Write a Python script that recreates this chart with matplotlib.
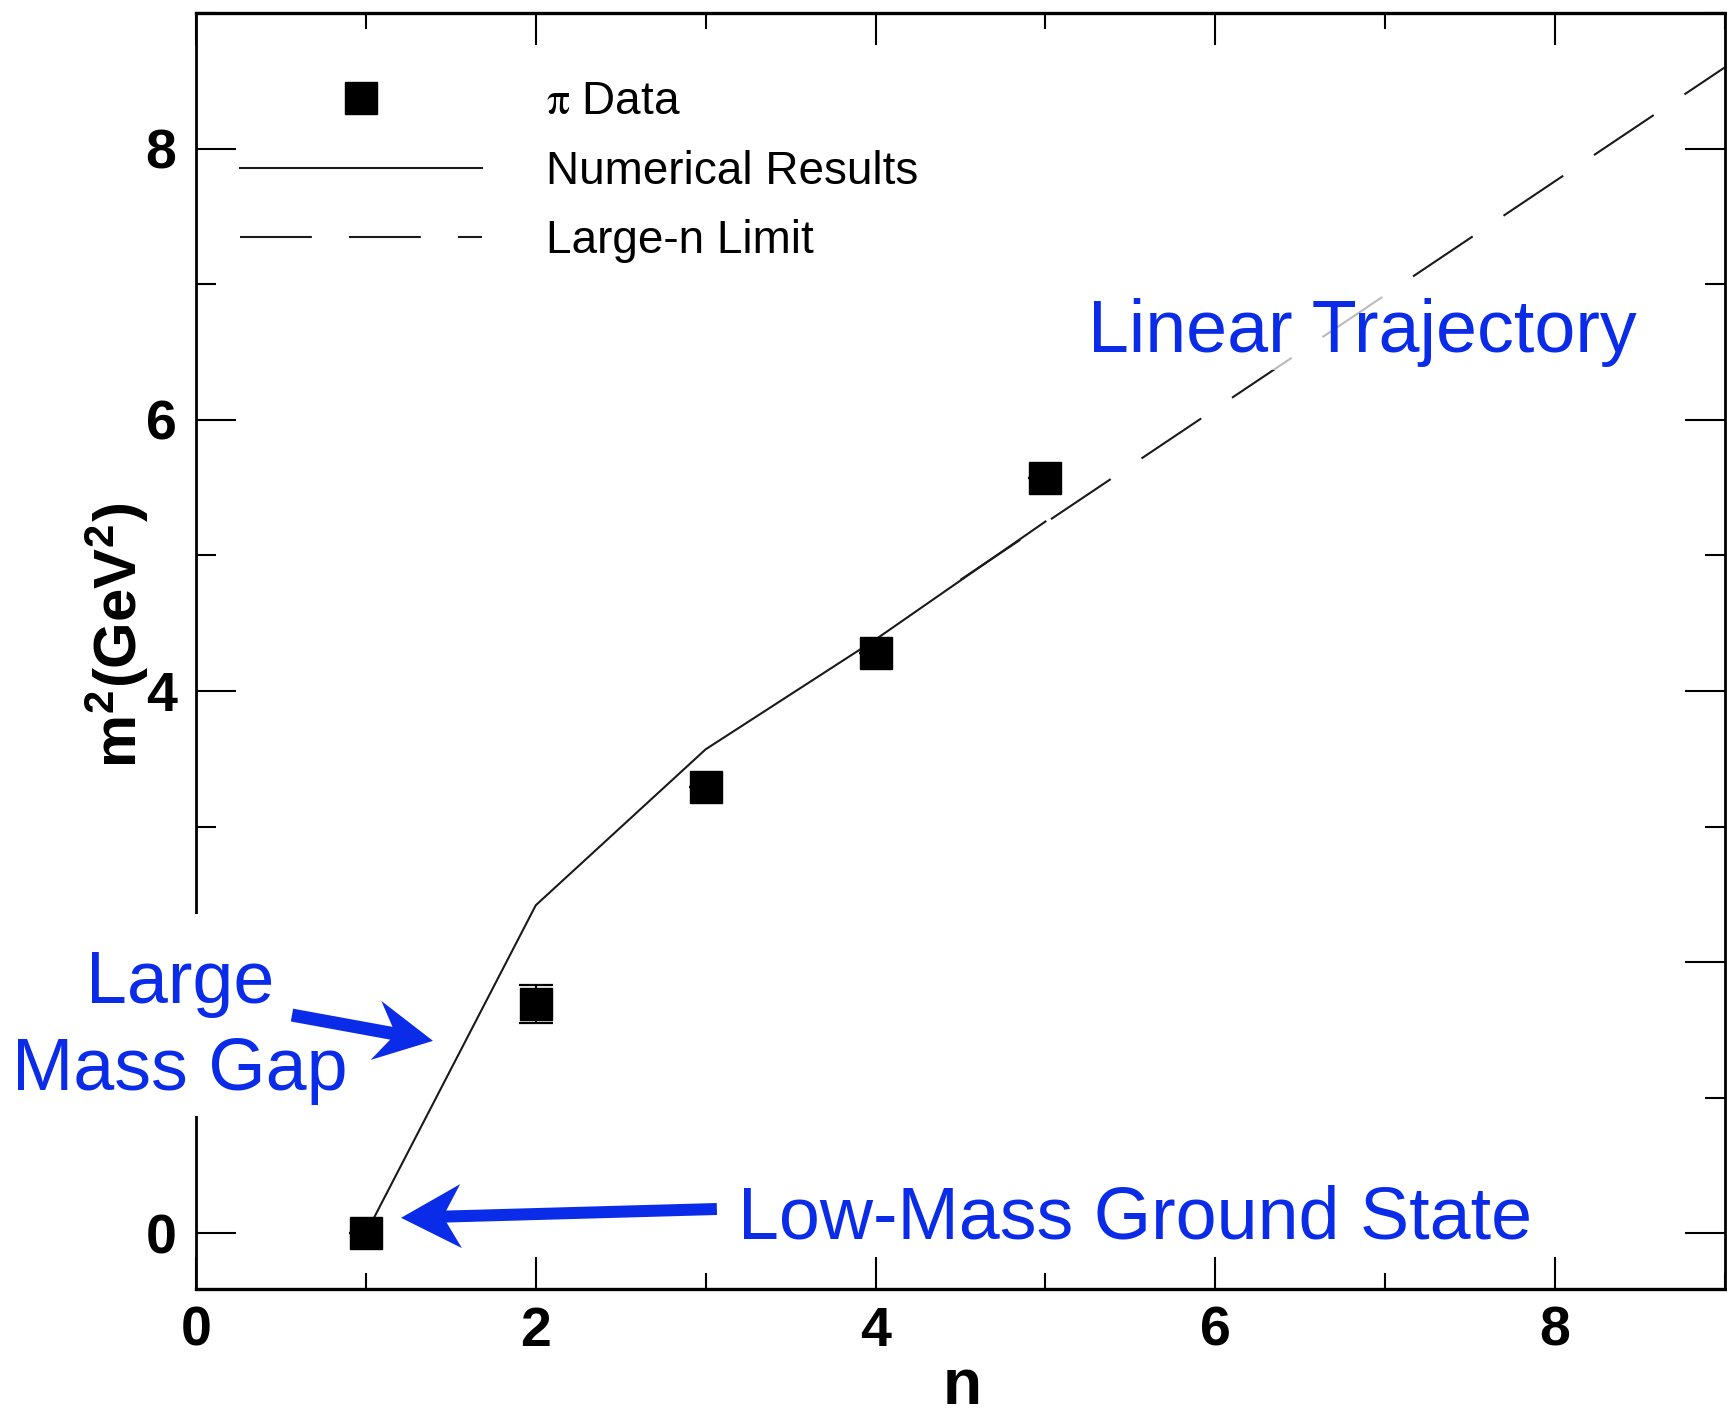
import numpy as np
import matplotlib
matplotlib.use("Agg")
import matplotlib.pyplot as plt
from matplotlib.patches import Polygon, Rectangle
from matplotlib.transforms import IdentityTransform
from matplotlib.ticker import MultipleLocator

plt.rcParams['font.family'] = ['Liberation Sans', 'DejaVu Sans']
plt.rcParams['mathtext.fontset'] = 'stix'

# ---------------- data ----------------
data_n = [1, 2, 3, 4, 5]
data_m2 = [0.0, 1.69, 3.29, 4.28, 5.57]
data_err = [0.0, 0.14, 0.0, 0.0, 0.0]

numerical_n = [1, 2, 3, 4, 5]
numerical_m2 = [0.0, 2.42, 3.57, 4.38, 5.25]

large_n_n = [4.5, 9.0]
large_n_m2 = [4.82, 8.60]

x_ticks = [0, 2, 4, 6, 8]
x_tick_labels = ['0', '2', '4', '6', '8']
y_ticks = [0, 2, 4, 6, 8]
y_tick_labels = ['0', '', '4', '6', '8']   # "2" is hidden behind the annotation

legend_labels = [r'$\mathrm{\pi}$ Data', 'Numerical Results', 'Large-n Limit']
blue = '#0a2ce8'

# ---------------- figure ----------------
W, H = 1727, 1416
fig = plt.figure(figsize=(W / 100, H / 100), dpi=100)
ax = fig.add_axes([196 / W, 1 - 1289 / H, (1725 - 196) / W, (1289 - 13) / H])
ax.set_xlim(0, 9.0)
ax.set_ylim(-0.41, 9.0)

ax.errorbar(data_n, data_m2, yerr=data_err, fmt='none', ecolor='k',
            elinewidth=1.5, capsize=12, capthick=1.6, zorder=3)
ax.plot(data_n, data_m2, 's', color='k', ms=23.5, label=legend_labels[0], zorder=4)
ax.plot(numerical_n, numerical_m2, '-', color='#1a1a1a', lw=1.5,
        label=legend_labels[1], zorder=3)
ax.plot(large_n_n, large_n_m2, color='#1a1a1a', lw=1.5,
        linestyle=(0, (34.5, 17.8)), label=legend_labels[2], zorder=3)

# ticks
ax.set_xticks(x_ticks, x_tick_labels)
ax.set_yticks(y_ticks, y_tick_labels)
ax.xaxis.set_minor_locator(MultipleLocator(1))
ax.yaxis.set_minor_locator(MultipleLocator(1))
ax.tick_params(axis='both', which='both', direction='in', top=True, right=True,
               width=1.5, color='k')
ax.tick_params(axis='x', which='major', length=23, pad=12)
ax.tick_params(axis='x', which='minor', length=11.5)
ax.tick_params(axis='y', which='major', length=29, pad=14)
ax.tick_params(axis='y', which='minor', length=14.5)
for lab in ax.get_xticklabels() + ax.get_yticklabels():
    lab.set_fontsize(40)
    lab.set_fontweight('bold')
ax.spines['bottom'].set_linewidth(2.4)
ax.spines['top'].set_linewidth(2.4)
ax.spines['left'].set_linewidth(2.0)
ax.spines['right'].set_linewidth(2.0)

ax.set_xlabel('n', fontsize=46, fontweight='bold')
ax.set_ylabel(r'm$^\mathregular{2}$(GeV$^\mathregular{2}$)', fontsize=43,
              fontweight='bold')
ax.xaxis.set_label_coords(0.501, -0.0535)
ax.yaxis.set_label_coords(-0.030, 0.5125)

leg = ax.legend(loc='upper left', bbox_to_anchor=(0.0288, 0.9475), frameon=False,
                fontsize=33, handlelength=5.28, handletextpad=1.4,
                labelspacing=0.56, borderpad=0, borderaxespad=0, numpoints=1)

# ---------------- annotations ----------------
# white patch behind the "Large Mass Gap" label (covers the spine there)
fig.add_artist(Rectangle((0, 1 - 1116 / H), 355 / W, 202 / H,
                         transform=fig.transFigure, facecolor='white',
                         edgecolor='none', zorder=2))

fig.text(-0.094, 1.70, 'Large', transform=ax.transData, color=blue,
         fontsize=53, ha='center', va='baseline', zorder=3)
fig.text(-0.094, 1.06, 'Mass Gap', transform=ax.transData, color=blue,
         fontsize=53, ha='center', va='baseline', zorder=3)
ax.text(5.25, 6.50, 'Linear Trajectory', color=blue, fontsize=53,
        ha='left', va='baseline', zorder=5,
        bbox=dict(facecolor='white', alpha=0.7, edgecolor='none', pad=2))
ax.text(3.19, -0.04, 'Low-Mass Ground State', color=blue, fontsize=53,
        ha='left', va='baseline', zorder=5)


def stealth_arrow(tail, tip, shaft_w, head_len, head_w, notch):
    t = ax.transData.transform(tail)
    p_tip = ax.transData.transform(tip)
    d = p_tip - t
    u = d / np.hypot(*d)
    p = np.array([-u[1], u[0]])
    Np = p_tip - u * notch
    Bp = p_tip - u * head_len + p * head_w / 2
    Bm = p_tip - u * head_len - p * head_w / 2
    Jp = Np + (shaft_w / head_w) * (Bp - Np)
    Jm = Np + (shaft_w / head_w) * (Bm - Np)
    verts = [t + p * shaft_w / 2, Jp, Bp, p_tip, Bm, Jm, t - p * shaft_w / 2]
    fig.add_artist(Polygon(verts, closed=True, transform=IdentityTransform(),
                           facecolor=blue, edgecolor='none', zorder=4))


stealth_arrow((0.565, 1.61), (1.395, 1.42), 13, 58, 60, 38)
stealth_arrow((3.066, 0.18), (1.207, 0.115), 12, 60, 64, 42)

fig.savefig('out.png', dpi=100)
